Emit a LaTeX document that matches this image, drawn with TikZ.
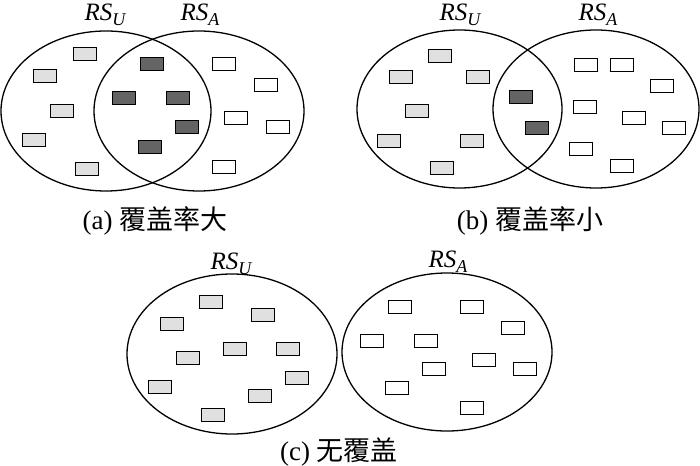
\documentclass[tikz,border=0pt]{standalone}
\usepackage{fontspec}
\setmainfont{Liberation Serif}
\newfontfamily\cjk{Noto Sans CJK SC}
\usepackage{tikz}
\usepackage{xcolor}
\definecolor{ulight}{RGB}{224,224,224}
\definecolor{bothdark}{RGB}{100,100,100}
\newcommand{\rsname}[1]{{\itshape RS\raisebox{-0.2em}{\fontsize{18}{18}\selectfont #1}}}

\tikzset{
  setring/.style={line width=1.3pt},
  item/.style={draw=black,line width=1.4pt,minimum width=23pt,minimum height=12.5pt,inner sep=0pt},
  uitem/.style={item,fill=ulight},
  aitem/.style={item,fill=white},
  bothitem/.style={item,fill=bothdark},
  setlabel/.style={anchor=base,inner sep=0pt,font=\fontsize{25}{25}\selectfont},
  caption/.style={anchor=base,inner sep=0pt,font=\fontsize{27}{27}\selectfont}
}

\begin{document}
\begin{tikzpicture}[x=1pt,y=-1pt]
    \useasboundingbox (0,0) rectangle (700,465);

    % (a) large overlap
    \draw[setring] (106,111) ellipse (105 and 80);
    \draw[setring] (199,111) ellipse (105 and 80);
    \node[setlabel] (aRSU) at (105,20.5) {\rsname{U}};
    \node[setlabel] (aRSA) at (200,20.5) {\rsname{A}};
    \foreach \px/\py [count=\i] in {85/54, 45/76, 62/111, 34/140, 87/169}{
      \node[uitem] (a-u-\i) at (\px,\py) {};
    }
    \foreach \px/\py [count=\i] in {152/64, 124/98, 178/98, 187/127, 150/147}{
      \node[bothitem] (a-b-\i) at (\px,\py) {};
    }
    \foreach \px/\py [count=\i] in {224/64, 266/85, 236/118, 278/127, 224/167}{
      \node[aitem] (a-a-\i) at (\px,\py) {};
    }
    \node[caption] (acap) at (155,229) {(a) {\cjk 覆盖率大}};

    % (b) small overlap
    \draw[setring] (459.5,109) ellipse (102.5 and 79);
    \draw[setring] (596,109) ellipse (103 and 79);
    \node[setlabel] (bRSU) at (460,20.5) {\rsname{U}};
    \node[setlabel] (bRSA) at (598,20.5) {\rsname{A}};
    \foreach \px/\py [count=\i] in {440/56, 401/77, 478/77, 417/111, 389/141, 472/141, 442/168}{
      \node[uitem] (b-u-\i) at (\px,\py) {};
    }
    \foreach \px/\py [count=\i] in {521/97, 537/128}{
      \node[bothitem] (b-b-\i) at (\px,\py) {};
    }
    \foreach \px/\py [count=\i] in {586/65, 622/65, 662/86, 585/107, 634/118, 674/128, 581/149, 622/166}{
      \node[aitem] (b-a-\i) at (\px,\py) {};
    }
    \node[caption] (bcap) at (530,229) {(b) {\cjk 覆盖率小}};

    % (c) no overlap
    \draw[setring] (232,354) ellipse (105 and 80);
    \draw[setring] (447,352) ellipse (105 and 79);
    \node[setlabel] (cRSU) at (231,269) {\rsname{U}};
    \node[setlabel] (cRSA) at (448,267) {\rsname{A}};
    \foreach \px/\py [count=\i] in {211/302, 172/324, 263/315, 188/358, 235/349, 288/349, 160/387, 297/378, 260/396, 213/415}{
      \node[uitem] (c-u-\i) at (\px,\py) {};
    }
    \foreach \px/\py [count=\i] in {400/307, 472/307, 513/328, 372/341, 426/341, 484/360, 434/369, 525/369, 397/388, 472/408}{
      \node[aitem] (c-a-\i) at (\px,\py) {};
    }
    \node[caption] (ccap) at (339,460) {(c) {\cjk 无覆盖}};
\end{tikzpicture}
\end{document}
